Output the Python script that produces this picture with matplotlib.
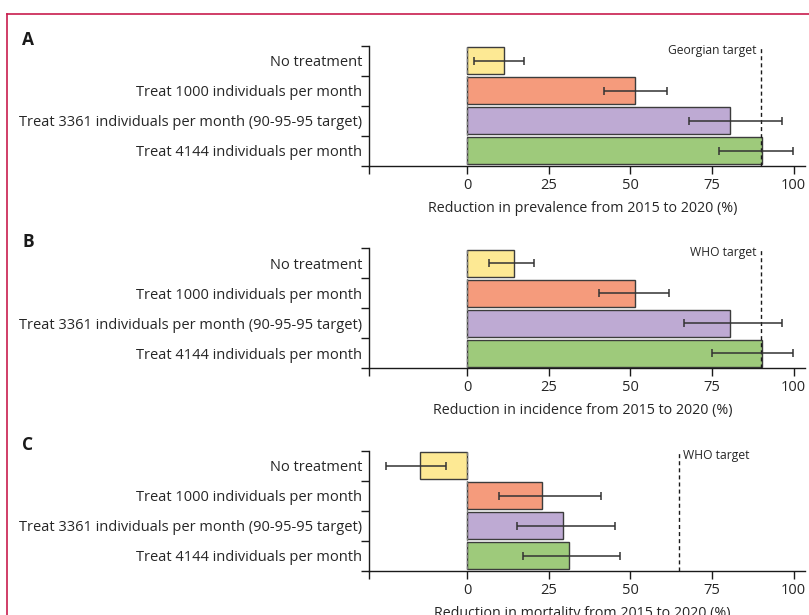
import matplotlib
matplotlib.use("Agg")
import matplotlib.pyplot as plt
from matplotlib.lines import Line2D
import numpy as np

plt.rcParams['font.family'] = ['Open Sans', 'DejaVu Sans']

# Scenarios (top to bottom)
scenarios = [
    "No treatment",
    "Treat 1000 individuals per month",
    "Treat 3361 individuals per month (90-95-95 target)",
    "Treat 4144 individuals per month",
]
bar_colors = ["#FDE994", "#F59B7C", "#BEAAD3", "#9ECA7B"]

# Panel A: reduction in prevalence (%)
prev_mean = [11.2, 51.5, 80.6, 90.3]
prev_low = [2.3, 42.1, 68.1, 77.1]
prev_high = [17.5, 61.1, 96.4, 99.8]

# Panel B: reduction in incidence (%)
inc_mean = [14.5, 51.5, 80.6, 90.3]
inc_low = [6.6, 40.4, 66.4, 75.0]
inc_high = [20.5, 62.0, 96.4, 99.8]

# Panel C: reduction in mortality (%)
mort_mean = [-14.3, 23.1, 29.3, 31.1]
mort_low = [-24.7, 9.7, 15.3, 17.1]
mort_high = [-6.3, 41.0, 45.4, 46.9]

targets = [90, 90, 65]
target_labels = ["Georgian target", "WHO target", "WHO target"]
panel_letters = ["A", "B", "C"]
xlabels = [
    "Reduction in prevalence from 2015 to 2020 (%)",
    "Reduction in incidence from 2015 to 2020 (%)",
    "Reduction in mortality from 2015 to 2020 (%)",
]
xtick_vals = [0, 25, 50, 75, 100]

panels = [
    (prev_mean, prev_low, prev_high),
    (inc_mean, inc_low, inc_high),
    (mort_mean, mort_low, mort_high),
]

W, H = 809, 615
fig = plt.figure(figsize=(W / 100, H / 100), dpi=100)

# pink frame around the figure
border_col = "#C81D4E"
fig.add_artist(Line2D([7 / W, 1.0], [1 - 14 / H, 1 - 14 / H], transform=fig.transFigure,
                      color=border_col, lw=1.2))
fig.add_artist(Line2D([7 / W, 7 / W], [1 - 14 / H, 0.0], transform=fig.transFigure,
                      color=border_col, lw=1.2))

ax_left, ax_right = 369 / W, 805 / W
tops = [45.7, 248.3, 450.7]
ax_h = 120.0
text_col = "#262626"
fs = 10.5

for i, (mean, low, high) in enumerate(panels):
    top = tops[i]
    ax = fig.add_axes([ax_left, 1 - (top + ax_h) / H, ax_right - ax_left, ax_h / H])
    y = np.arange(len(scenarios))
    mean = np.array(mean)
    xerr = np.vstack([mean - np.array(low), np.array(high) - mean])

    ax.barh(y, mean, height=0.9, color=bar_colors, edgecolor="#3c3c3c",
            linewidth=1.0, zorder=2)
    ax.errorbar(mean, y, xerr=xerr, fmt="none", ecolor="#333333", elinewidth=1.1,
                capsize=2.6, capthick=1.1, zorder=4)

    # zero reference line
    ax.vlines(0, -0.45, 3.45, colors="#808080", linestyles=(0, (2.5, 1.6)),
              linewidth=1.0, zorder=3)
    # target line
    ax.axvline(targets[i], color="#1a1a1a", linestyle=(0, (2.9, 2.2)),
               linewidth=1.0, zorder=3)

    if i < 2:
        ax.text(targets[i] - 1.4, -0.5 + 0.15, target_labels[i],
                ha="right", va="center", fontsize=8.7, color=text_col)
    else:
        ax.text(targets[i] + 1.2, -0.5 + 0.15, target_labels[i],
                ha="left", va="center", fontsize=8.7, color=text_col)

    ax.set_xlim(-30, 103.5)
    ax.set_ylim(3.5, -0.5)

    ax.set_yticks(y)
    ax.set_yticklabels(scenarios, fontsize=fs, color=text_col)
    ax.tick_params(axis="y", which="major", length=0, pad=5)
    ax.set_yticks(np.arange(-0.5, 4.0, 1.0), minor=True)
    ax.tick_params(axis="y", which="minor", length=6, width=1.0, color="#1a1a1a",
                   direction="out")

    ax.set_xticks([-30] + xtick_vals)
    ax.set_xticklabels([""] + [str(v) for v in xtick_vals], fontsize=10.5,
                       color=text_col)
    ax.tick_params(axis="x", length=5.5, width=1.0, color="#1a1a1a", pad=3)

    for side in ["top", "right"]:
        ax.spines[side].set_visible(False)
    for side in ["left", "bottom"]:
        ax.spines[side].set_linewidth(1.0)
        ax.spines[side].set_color("#1a1a1a")
    ax.set_facecolor("none")

    # axis title and panel letter
    fig.text(582.5 / W, 1 - (top + ax_h + 42.6) / H, xlabels[i], ha="center",
             va="center", fontsize=10.3, color=text_col)
    fig.text(22 / W, 1 - (top - 6) / H, panel_letters[i], ha="left", va="center",
             fontsize=12.5, fontweight="bold", color="#1a1a1a")

fig.savefig("out.png", dpi=100)
